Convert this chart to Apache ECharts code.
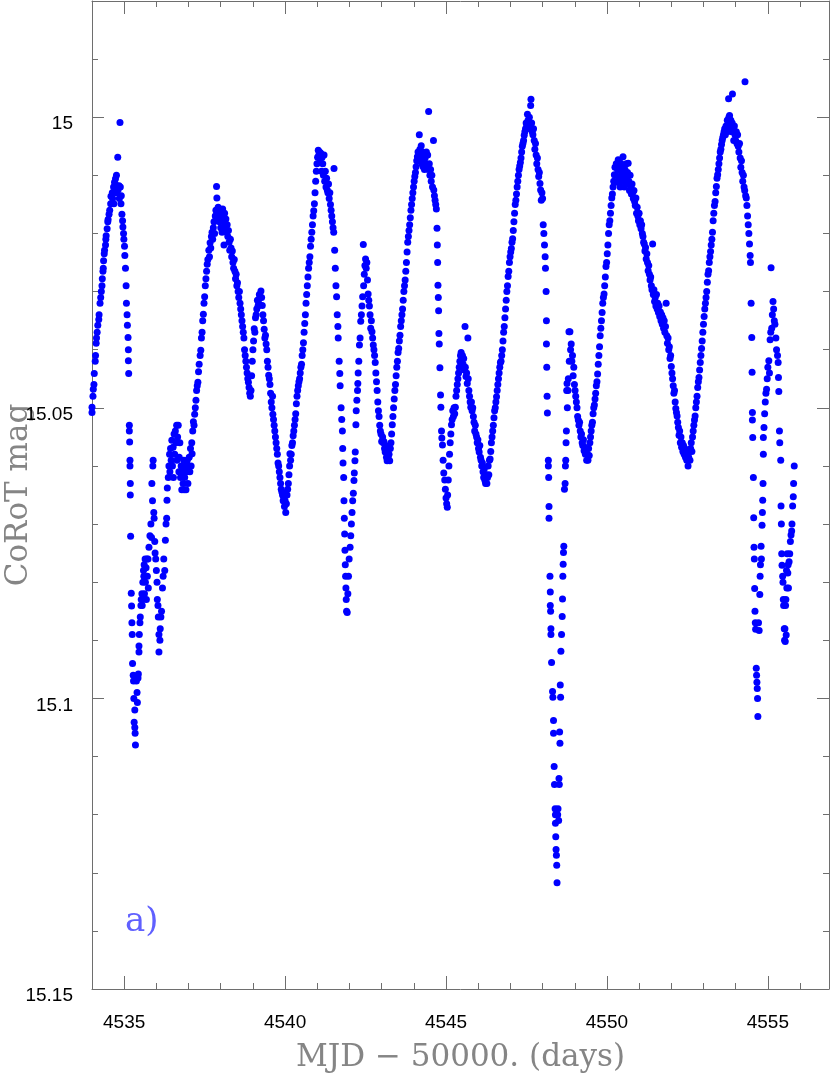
<!DOCTYPE html>
<html>
<head>
<meta charset="utf-8">
<title>CoRoT light curve</title>
<script src="https://cdn.jsdelivr.net/npm/echarts@6/dist/echarts.min.js"></script>
<style>
  html, body { margin: 0; padding: 0; background: #fff; }
  #chart { width: 831px; height: 1079px; }
</style>
</head>
<body>
<div id="chart"></div>
<script>
// [MJD - 50000, CoRoT mag], cycle by cycle
const seg1 = [
  [4534.00,15.0508],[4534.00,15.0499],[4534.03,15.0480],[4534.04,15.0468],[4534.06,15.0460],[4534.07,15.0441],[4534.10,15.0420],[4534.11,15.0410],
  [4534.13,15.0389],[4534.14,15.0380],[4534.16,15.0370],[4534.18,15.0358],[4534.21,15.0348],[4534.22,15.0340],[4534.25,15.0320],[4534.27,15.0310],
  [4534.29,15.0300],[4534.31,15.0290],[4534.32,15.0278],[4534.34,15.0265],[4534.35,15.0260],[4534.36,15.0247],[4534.38,15.0235],[4534.39,15.0229],
  [4534.42,15.0220],[4534.43,15.0210],[4534.44,15.0204],[4534.47,15.0192],[4534.49,15.0180],[4534.50,15.0176],[4534.53,15.0167],[4534.55,15.0160],
  [4534.58,15.0149],[4534.59,15.0136],[4534.63,15.0130],[4534.64,15.0140],[4534.67,15.0120],[4534.68,15.0149],[4534.70,15.0112],[4534.72,15.0118],
  [4534.73,15.0106],[4534.75,15.0130],[4534.76,15.0100],[4534.78,15.0118],[4534.80,15.0069],[4534.81,15.0125],[4534.84,15.0118],[4534.85,15.0140],
  [4534.87,15.0009],[4534.88,15.0120],[4534.90,15.0149],[4534.91,15.0135],[4534.93,15.0167],[4534.95,15.0178],[4534.96,15.0189],[4534.98,15.0200],
  [4534.99,15.0210],[4535.01,15.0222],[4535.02,15.0238],[4535.04,15.0260],[4535.06,15.0290],[4535.07,15.0320],[4535.09,15.0340],[4535.10,15.0358],
  [4535.12,15.0379],[4535.13,15.0400],[4535.13,15.0419],[4535.14,15.0441],[4535.16,15.0530],[4535.16,15.0540],[4535.17,15.0559],[4535.18,15.0590],
  [4535.18,15.0600],[4535.19,15.0630],[4535.19,15.0650],[4535.20,15.0721],[4535.22,15.0819],[4535.23,15.0841],[4535.24,15.0870],[4535.25,15.0890],
  [4535.26,15.0940],[4535.28,15.0960],[4535.29,15.0970],[4535.30,15.1000],[4535.31,15.1041],[4535.33,15.1020],[4535.33,15.1050],[4535.34,15.1060],
  [4535.35,15.1080]
];
const seg2 = [
  [4535.38,15.0970],[4535.40,15.0990],[4535.41,15.1007],[4535.43,15.0965],[4535.44,15.0958],[4535.46,15.0920],[4535.46,15.0910],[4535.47,15.0890],
  [4535.49,15.0870],[4535.50,15.0860],[4535.52,15.0840],[4535.53,15.0830],[4535.55,15.0820],[4535.56,15.0840],[4535.58,15.0800],[4535.59,15.0830],
  [4535.60,15.0780],[4535.61,15.0790],[4535.62,15.0770],[4535.63,15.0820],[4535.65,15.0760],[4535.66,15.0800],[4535.68,15.0775],[4535.69,15.0830],
  [4535.71,15.0760],[4535.72,15.0790],[4535.74,15.0760],[4535.75,15.0810],[4535.77,15.0740],[4535.80,15.0720],[4535.83,15.0700],[4535.85,15.0723],
  [4535.86,15.0630],[4535.88,15.0660],[4535.89,15.0600],[4535.90,15.0590],[4535.92,15.0680],[4535.93,15.0690],[4535.95,15.0730],[4535.96,15.0750],
  [4535.98,15.0760],[4536.00,15.0780],[4536.02,15.0800],[4536.03,15.0830],[4536.05,15.0840],[4536.06,15.0860],[4536.08,15.0920],[4536.08,15.0890],
  [4536.11,15.0900],[4536.12,15.0880],[4536.14,15.0860],[4536.16,15.0850],[4536.19,15.0810],[4536.21,15.0790],[4536.23,15.0760],[4536.26,15.0780],
  [4536.28,15.0728],[4536.30,15.0700],[4536.32,15.0690],[4536.33,15.0659],[4536.34,15.0638],[4536.37,15.0620],[4536.39,15.0600],[4536.41,15.0580],
  [4536.42,15.0610],[4536.44,15.0570],[4536.46,15.0590],[4536.48,15.0556],[4536.50,15.0600],[4536.52,15.0568],[4536.53,15.0620],[4536.55,15.0545],
  [4536.57,15.0580],[4536.59,15.0540],[4536.61,15.0560],[4536.63,15.0530],[4536.64,15.0590],[4536.66,15.0550],[4536.68,15.0530],[4536.70,15.0610],
  [4536.71,15.0585],[4536.73,15.0560],[4536.75,15.0620],[4536.77,15.0600],[4536.79,15.0641],[4536.81,15.0610],[4536.83,15.0630],[4536.85,15.0590],
  [4536.86,15.0641],[4536.88,15.0620],[4536.90,15.0600],[4536.92,15.0641],[4536.94,15.0610],[4536.96,15.0590],[4536.98,15.0630]
];
const seg3 = [
  [4537.00,15.0600],[4537.02,15.0585],[4537.04,15.0610],[4537.06,15.0570],[4537.08,15.0600],[4537.10,15.0560],[4537.11,15.0579],[4537.13,15.0540],
  [4537.15,15.0524],[4537.17,15.0530],[4537.19,15.0511],[4537.21,15.0500],[4537.23,15.0487],[4537.25,15.0470],[4537.27,15.0462],[4537.29,15.0456],
  [4537.31,15.0438],[4537.33,15.0425],[4537.36,15.0410],[4537.38,15.0401],[4537.40,15.0380],[4537.42,15.0370],[4537.44,15.0350],[4537.46,15.0339],
  [4537.48,15.0320],[4537.50,15.0309],[4537.52,15.0290],[4537.54,15.0278],[4537.56,15.0265],[4537.58,15.0253],[4537.60,15.0245],[4537.63,15.0229],
  [4537.65,15.0240],[4537.67,15.0216],[4537.69,15.0225],[4537.71,15.0205],[4537.73,15.0198],[4537.75,15.0210],[4537.77,15.0190],[4537.79,15.0180],
  [4537.81,15.0200],[4537.83,15.0170],[4537.85,15.0160],[4537.87,15.0119],[4537.88,15.0139],[4537.90,15.0175],[4537.92,15.0155],[4537.94,15.0165],
  [4537.96,15.0180],[4537.98,15.0160],[4538.00,15.0190],[4538.02,15.0170],[4538.04,15.0198],[4538.06,15.0158],[4538.08,15.0180],[4538.10,15.0220],
  [4538.12,15.0165],[4538.14,15.0190],[4538.16,15.0175],[4538.18,15.0198],[4538.20,15.0185],[4538.22,15.0205],[4538.24,15.0195],[4538.26,15.0215],
  [4538.28,15.0229],[4538.30,15.0210],[4538.32,15.0225],[4538.34,15.0240],[4538.36,15.0230],[4538.38,15.0250],[4538.40,15.0260],[4538.42,15.0245],
  [4538.44,15.0265],[4538.46,15.0278],[4538.48,15.0270],[4538.50,15.0290],[4538.52,15.0285],[4538.54,15.0300],[4538.56,15.0310],[4538.58,15.0300],
  [4538.60,15.0320],[4538.62,15.0330],[4538.64,15.0340],[4538.66,15.0350],[4538.68,15.0360],[4538.70,15.0370],[4538.72,15.0380],[4538.74,15.0400],
  [4538.76,15.0410],[4538.78,15.0420],[4538.80,15.0430],[4538.82,15.0440],[4538.84,15.0450],[4538.86,15.0456],[4538.88,15.0465],[4538.90,15.0475],
  [4538.92,15.0480],[4538.94,15.0470],[4538.96,15.0445],[4538.98,15.0420],[4539.00,15.0400],[4539.02,15.0385],[4539.04,15.0364],[4539.06,15.0370],
  [4539.08,15.0345],[4539.10,15.0340],[4539.12,15.0330],[4539.14,15.0315],[4539.16,15.0325],[4539.18,15.0320],[4539.20,15.0305],[4539.22,15.0310],
  [4539.25,15.0299],[4539.27,15.0310],[4539.29,15.0324],[4539.31,15.0340],[4539.33,15.0350],[4539.35,15.0365],[4539.37,15.0380],[4539.39,15.0375],
  [4539.41,15.0390],[4539.43,15.0400],[4539.45,15.0420],[4539.47,15.0430],[4539.49,15.0444],[4539.51,15.0450],[4539.53,15.0460],[4539.55,15.0475],
  [4539.57,15.0490],[4539.59,15.0500],[4539.61,15.0480],[4539.62,15.0511],[4539.64,15.0520],[4539.66,15.0530],[4539.68,15.0540],[4539.70,15.0550],
  [4539.72,15.0560],[4539.74,15.0570],[4539.76,15.0580],[4539.78,15.0595],[4539.80,15.0600],[4539.82,15.0610],[4539.84,15.0620],[4539.86,15.0630],
  [4539.88,15.0640],[4539.90,15.0645],[4539.92,15.0650],[4539.94,15.0660],[4539.96,15.0655],[4539.98,15.0670]
];
const seg4 = [
  [4540.00,15.0660],[4540.02,15.0680],[4540.04,15.0665],[4540.06,15.0650],[4540.08,15.0640],[4540.10,15.0630],[4540.12,15.0615],[4540.14,15.0600],
  [4540.15,15.0579],[4540.17,15.0590],[4540.19,15.0580],[4540.21,15.0565],[4540.23,15.0560],[4540.25,15.0548],[4540.27,15.0540],[4540.29,15.0530],
  [4540.31,15.0520],[4540.33,15.0510],[4540.35,15.0493],[4540.37,15.0480],[4540.39,15.0470],[4540.41,15.0462],[4540.43,15.0455],[4540.45,15.0450],
  [4540.47,15.0440],[4540.49,15.0430],[4540.51,15.0425],[4540.53,15.0410],[4540.55,15.0400],[4540.57,15.0388],[4540.59,15.0370],[4540.61,15.0355],
  [4540.63,15.0340],[4540.65,15.0320],[4540.67,15.0305],[4540.69,15.0290],[4540.71,15.0275],[4540.73,15.0260],[4540.75,15.0250],[4540.77,15.0240],
  [4540.79,15.0222],[4540.81,15.0210],[4540.83,15.0198],[4540.85,15.0185],[4540.87,15.0170],[4540.89,15.0161],[4540.91,15.0149],[4540.93,15.0130],
  [4540.95,15.0110],[4540.97,15.0093],[4540.99,15.0080],[4541.01,15.0069],[4541.03,15.0057],[4541.05,15.0065],[4541.07,15.0060],[4541.09,15.0075],
  [4541.11,15.0062],[4541.13,15.0093],[4541.15,15.0069],[4541.17,15.0080],[4541.19,15.0100],[4541.21,15.0065],[4541.23,15.0110],[4541.25,15.0093],
  [4541.27,15.0120],[4541.29,15.0105],[4541.31,15.0125],[4541.33,15.0130],[4541.35,15.0115],[4541.37,15.0140],[4541.39,15.0130],[4541.41,15.0150],
  [4541.43,15.0160],[4541.45,15.0170],[4541.47,15.0180],[4541.49,15.0190],[4541.51,15.0198],[4541.52,15.0088],[4541.54,15.0229],[4541.56,15.0260],
  [4541.58,15.0290],[4541.60,15.0309],[4541.62,15.0340],[4541.64,15.0360],[4541.65,15.0380],[4541.68,15.0420],[4541.70,15.0441],[4541.71,15.0462],
  [4541.74,15.0500],[4541.76,15.0520],[4541.78,15.0540],[4541.79,15.0570],[4541.80,15.0595],[4541.82,15.0620],[4541.83,15.0660],[4541.84,15.0690],
  [4541.85,15.0717],[4541.86,15.0745],[4541.87,15.0770],[4541.88,15.0790],[4541.89,15.0810],[4541.90,15.0830],[4541.91,15.0850],[4541.93,15.0852],
  [4541.95,15.0820],[4541.97,15.0790],[4541.99,15.0760],[4542.02,15.0740],[4542.04,15.0720],[4542.06,15.0700],[4542.08,15.0680],[4542.10,15.0660],
  [4542.12,15.0647],[4542.14,15.0625],[4542.15,15.0612],[4542.17,15.0591],[4542.18,15.0576],[4542.20,15.0529],[4542.21,15.0505],[4542.23,15.0487],
  [4542.25,15.0470],[4542.26,15.0458],[4542.27,15.0440],[4542.29,15.0420],[4542.31,15.0392],[4542.33,15.0380],[4542.35,15.0351],[4542.37,15.0340],
  [4542.39,15.0325],[4542.41,15.0309],[4542.43,15.0219],[4542.44,15.0290],[4542.46,15.0270],[4542.48,15.0255],[4542.50,15.0244],[4542.52,15.0260],
  [4542.54,15.0250],[4542.56,15.0280],[4542.58,15.0304],[4542.60,15.0315],[4542.62,15.0325],[4542.64,15.0340],[4542.66,15.0363],[4542.68,15.0350],
  [4542.70,15.0369],[4542.72,15.0380],[4542.74,15.0392],[4542.76,15.0400],[4542.78,15.0410],[4542.80,15.0422],[4542.82,15.0440],[4542.84,15.0455],
  [4542.86,15.0470],[4542.88,15.0490],[4542.90,15.0505],[4542.92,15.0515],[4542.94,15.0530],[4542.96,15.0540],[4542.98,15.0545]
];
const seg5 = [
  [4543.00,15.0558],[4543.03,15.0550],[4543.05,15.0560],[4543.07,15.0558],[4543.09,15.0570],[4543.11,15.0576],[4543.13,15.0565],[4543.15,15.0585],
  [4543.17,15.0591],[4543.19,15.0575],[4543.21,15.0588],[4543.23,15.0580],[4543.25,15.0591],[4543.27,15.0570],[4543.29,15.0560],[4543.31,15.0545],
  [4543.33,15.0529],[4543.35,15.0515],[4543.37,15.0500],[4543.39,15.0485],[4543.41,15.0470],[4543.43,15.0460],[4543.45,15.0445],[4543.47,15.0430],
  [4543.49,15.0420],[4543.51,15.0405],[4543.53,15.0398],[4543.55,15.0385],[4543.57,15.0375],[4543.59,15.0360],[4543.61,15.0350],[4543.63,15.0340],
  [4543.65,15.0330],[4543.67,15.0315],[4543.69,15.0300],[4543.71,15.0290],[4543.73,15.0280],[4543.75,15.0265],[4543.77,15.0250],[4543.79,15.0232],
  [4543.81,15.0215],[4543.83,15.0205],[4543.85,15.0195],[4543.87,15.0185],[4543.89,15.0173],[4543.91,15.0160],[4543.93,15.0150],[4543.95,15.0140],
  [4543.97,15.0130],[4543.99,15.0120],[4544.01,15.0110],[4544.03,15.0102],[4544.05,15.0095],[4544.07,15.0085],[4544.09,15.0075],[4544.11,15.0068],
  [4544.13,15.0060],[4544.15,15.0075],[4544.17,15.0030],[4544.19,15.0055],[4544.21,15.0070],[4544.23,15.0049],[4544.25,15.0080],[4544.27,15.0060],
  [4544.29,15.0085],[4544.31,15.0065],[4544.33,15.0090],[4544.35,15.0070],[4544.37,15.0080],[4544.39,15.0060],[4544.41,15.0085],[4544.43,15.0065],
  [4544.45,15.0090],[4544.46,14.9990],[4544.48,15.0080],[4544.50,15.0100],[4544.52,15.0090],[4544.54,15.0110],[4544.56,15.0100],[4544.58,15.0120],
  [4544.61,15.0040],[4544.62,15.0125],[4544.64,15.0135],[4544.66,15.0143],[4544.68,15.0150],[4544.70,15.0158],[4544.72,15.0191],[4544.73,15.0220],
  [4544.74,15.0250],[4544.75,15.0289],[4544.76,15.0310],[4544.77,15.0333],[4544.78,15.0372],[4544.79,15.0390],[4544.81,15.0431],[4544.83,15.0478],
  [4544.84,15.0499],[4544.86,15.0540],[4544.87,15.0552],[4544.89,15.0564],[4544.91,15.0590],[4544.93,15.0612],[4544.96,15.0624],[4544.98,15.0640],
  [4545.00,15.0655],[4545.02,15.0665],[4545.04,15.0671],[4545.05,15.0650],[4545.07,15.0624],[4545.09,15.0600],[4545.11,15.0580],[4545.13,15.0560],
  [4545.15,15.0545],[4545.17,15.0529],[4545.19,15.0520],[4545.21,15.0505],[4545.23,15.0515],[4545.25,15.0500],[4545.27,15.0510],[4545.29,15.0499],
  [4545.31,15.0480],[4545.33,15.0470],[4545.35,15.0460],[4545.37,15.0450],[4545.39,15.0440],[4545.41,15.0430],[4545.43,15.0420],[4545.45,15.0410],
  [4545.47,15.0405],[4545.49,15.0420],[4545.51,15.0410],[4545.53,15.0425],[4545.55,15.0415],[4545.57,15.0435],[4545.59,15.0360],[4545.60,15.0430],
  [4545.62,15.0446],[4545.64,15.0440],[4545.66,15.0458],[4545.68,15.0380],[4545.69,15.0450],[4545.71,15.0470],[4545.73,15.0480],[4545.75,15.0490],
  [4545.77,15.0499],[4545.79,15.0490],[4545.81,15.0505],[4545.83,15.0500],[4545.85,15.0515],[4545.87,15.0525],[4545.89,15.0540],[4545.91,15.0530],
  [4545.93,15.0545],[4545.95,15.0550],[4545.97,15.0560],[4545.99,15.0555],[4546.01,15.0570],[4546.03,15.0576],[4546.05,15.0565],[4546.07,15.0585],
  [4546.09,15.0590],[4546.11,15.0600],[4546.13,15.0595],[4546.15,15.0610],[4546.17,15.0620],[4546.19,15.0605],[4546.21,15.0625],[4546.23,15.0630],
  [4546.25,15.0615],[4546.27,15.0630],[4546.29,15.0620],[4546.31,15.0600],[4546.33,15.0615],[4546.35,15.0590],[4546.37,15.0588],[4546.39,15.0575],
  [4546.41,15.0560],[4546.43,15.0550],[4546.45,15.0540],[4546.47,15.0530]
];
const seg6 = [
  [4546.49,15.0517],[4546.51,15.0505],[4546.53,15.0500],[4546.55,15.0490],[4546.57,15.0481],[4546.59,15.0470],[4546.61,15.0460],[4546.63,15.0450],
  [4546.65,15.0440],[4546.67,15.0430],[4546.69,15.0422],[4546.71,15.0420],[4546.73,15.0410],[4546.75,15.0400],[4546.77,15.0385],[4546.79,15.0370],
  [4546.81,15.0360],[4546.83,15.0345],[4546.85,15.0330],[4546.87,15.0315],[4546.89,15.0300],[4546.91,15.0290],[4546.93,15.0274],[4546.95,15.0265],
  [4546.97,15.0250],[4546.99,15.0240],[4547.01,15.0232],[4547.03,15.0226],[4547.05,15.0215],[4547.07,15.0209],[4547.09,15.0195],[4547.11,15.0180],
  [4547.13,15.0165],[4547.15,15.0150],[4547.17,15.0143],[4547.19,15.0132],[4547.21,15.0120],[4547.23,15.0110],[4547.25,15.0100],[4547.27,15.0090],
  [4547.29,15.0084],[4547.31,15.0078],[4547.33,15.0070],[4547.35,15.0060],[4547.37,15.0050],[4547.39,15.0045],[4547.41,15.0040],[4547.43,15.0031],
  [4547.45,15.0025],[4547.47,15.0020],[4547.49,15.0010],[4547.51,15.0015],[4547.53,14.9995],[4547.55,15.0005],[4547.57,15.0010],[4547.59,15.0000],
  [4547.61,15.0020],[4547.63,14.9980],[4547.64,14.9969],[4547.66,15.0010],[4547.68,15.0025],[4547.70,15.0030],[4547.72,15.0020],[4547.74,15.0040],
  [4547.76,15.0055],[4547.78,15.0045],[4547.80,15.0065],[4547.82,15.0080],[4547.84,15.0070],[4547.86,15.0090],[4547.88,15.0102],[4547.90,15.0095],
  [4547.92,15.0114],[4547.94,15.0125],[4547.96,15.0143],[4547.98,15.0130],[4548.00,15.0140],[4548.02,15.0185],[4548.04,15.0200],[4548.06,15.0220],
  [4548.08,15.0240],[4548.09,15.0260],[4548.11,15.0300],[4548.12,15.0350],[4548.12,15.0390],[4548.13,15.0430],[4548.14,15.0480],[4548.15,15.0509],
  [4548.18,15.0590],[4548.18,15.0600],[4548.19,15.0620],[4548.20,15.0670],[4548.20,15.0690],[4548.23,15.0790],[4548.24,15.0817],[4548.24,15.0840],
  [4548.25,15.0850],[4548.26,15.0880],[4548.26,15.0890],[4548.28,15.0938],[4548.31,15.0988],[4548.32,15.0998],[4548.34,15.1038],[4548.34,15.1060],
  [4548.36,15.1117],[4548.37,15.1148],[4548.39,15.1190],[4548.40,15.1200],[4548.40,15.1215],[4548.41,15.1238],[4548.42,15.1260],[4548.43,15.1270],
  [4548.44,15.1287],[4548.45,15.1317],[4548.47,15.1200],[4548.48,15.1190],[4548.50,15.1210],[4548.51,15.1138],[4548.52,15.1148],[4548.53,15.1058],
  [4548.54,15.1077],[4548.55,15.0977],[4548.56,15.0998],[4548.57,15.0919],[4548.59,15.0890],[4548.61,15.0859],[4548.62,15.0829],[4548.63,15.0790],
  [4548.64,15.0769],[4548.65,15.0749],[4548.66,15.0738],[4548.68,15.0640],[4548.70,15.0630],[4548.71,15.0600],[4548.72,15.0590],[4548.73,15.0560],
  [4548.74,15.0540],[4548.75,15.0470],[4548.76,15.0458],[4548.77,15.0500],[4548.79,15.0470],[4548.80,15.0450],[4548.82,15.0369],[4548.83,15.0420],
  [4548.85,15.0369],[4548.87,15.0400],[4548.89,15.0390],[4548.91,15.0420],[4548.93,15.0410],[4548.95,15.0445],[4548.97,15.0430],[4548.99,15.0460],
  [4549.01,15.0470],[4549.03,15.0480],[4549.05,15.0490],[4549.07,15.0500],[4549.09,15.0515],[4549.11,15.0521],[4549.13,15.0530],[4549.15,15.0525],
  [4549.17,15.0540],[4549.19,15.0550],[4549.21,15.0545],[4549.23,15.0560],[4549.25,15.0565],[4549.27,15.0555],[4549.29,15.0574],[4549.31,15.0568],
  [4549.33,15.0580],[4549.35,15.0575],[4549.37,15.0590],[4549.39,15.0580],[4549.41,15.0590],[4549.43,15.0570],[4549.45,15.0582],[4549.47,15.0560]
];
const seg7 = [
  [4549.49,15.0550],[4549.51,15.0540],[4549.53,15.0530],[4549.55,15.0525],[4549.57,15.0510],[4549.59,15.0500],[4549.61,15.0495],[4549.63,15.0485],
  [4549.65,15.0475],[4549.67,15.0462],[4549.69,15.0455],[4549.71,15.0442],[4549.73,15.0425],[4549.75,15.0410],[4549.77,15.0395],[4549.79,15.0376],
  [4549.81,15.0363],[4549.83,15.0350],[4549.85,15.0336],[4549.87,15.0320],[4549.89,15.0310],[4549.91,15.0304],[4549.93,15.0290],[4549.95,15.0275],
  [4549.97,15.0257],[4549.99,15.0250],[4550.01,15.0235],[4550.03,15.0220],[4550.05,15.0200],[4550.07,15.0185],[4550.09,15.0178],[4550.11,15.0165],
  [4550.13,15.0152],[4550.15,15.0139],[4550.17,15.0132],[4550.19,15.0120],[4550.21,15.0110],[4550.23,15.0099],[4550.25,15.0086],[4550.27,15.0100],
  [4550.29,15.0080],[4550.31,15.0112],[4550.33,15.0090],[4550.35,15.0073],[4550.37,15.0105],[4550.39,15.0085],[4550.41,15.0120],[4550.43,15.0079],
  [4550.45,15.0095],[4550.47,15.0110],[4550.49,15.0085],[4550.50,15.0068],[4550.52,15.0100],[4550.54,15.0120],[4550.56,15.0090],[4550.58,15.0105],
  [4550.60,15.0080],[4550.62,15.0115],[4550.64,15.0095],[4550.66,15.0079],[4550.68,15.0110],[4550.70,15.0126],[4550.72,15.0100],[4550.74,15.0120],
  [4550.76,15.0132],[4550.78,15.0115],[4550.80,15.0130],[4550.82,15.0140],[4550.84,15.0126],[4550.86,15.0145],[4550.88,15.0152],[4550.90,15.0139],
  [4550.92,15.0165],[4550.94,15.0155],[4550.96,15.0170],[4550.98,15.0178],[4551.00,15.0165],[4551.02,15.0185],[4551.04,15.0178],[4551.06,15.0192],
  [4551.08,15.0185],[4551.10,15.0200],[4551.12,15.0205],[4551.14,15.0215],[4551.16,15.0218],[4551.18,15.0230],[4551.20,15.0224],[4551.22,15.0244],
  [4551.24,15.0235],[4551.26,15.0250],[4551.28,15.0264],[4551.30,15.0255],[4551.32,15.0270],[4551.34,15.0280],[4551.36,15.0275],[4551.38,15.0290],
  [4551.40,15.0297],[4551.42,15.0218],[4551.44,15.0305],[4551.46,15.0297],[4551.48,15.0317],[4551.50,15.0310],[4551.52,15.0325],[4551.54,15.0305],
  [4551.56,15.0330],[4551.58,15.0320],[4551.60,15.0336],[4551.62,15.0325],[4551.64,15.0343],[4551.66,15.0335],[4551.68,15.0350],[4551.70,15.0340],
  [4551.72,15.0356],[4551.74,15.0345],[4551.76,15.0363],[4551.78,15.0350],[4551.80,15.0370],[4551.82,15.0360],[4551.84,15.0320],[4551.86,15.0376],
  [4551.88,15.0389],[4551.90,15.0380],[4551.92,15.0400],[4551.94,15.0395],[4551.96,15.0415],[4551.98,15.0410],[4552.00,15.0429],[4552.02,15.0440],
  [4552.04,15.0450],[4552.06,15.0462],[4552.08,15.0475],[4552.10,15.0470],[4552.12,15.0490],[4552.14,15.0501],[4552.16,15.0508],[4552.18,15.0514],
  [4552.20,15.0525],[4552.22,15.0534],[4552.24,15.0547],[4552.26,15.0540],[4552.28,15.0560],[4552.30,15.0550],[4552.32,15.0568],[4552.34,15.0560],
  [4552.36,15.0575],[4552.38,15.0565],[4552.40,15.0580],[4552.42,15.0570],[4552.44,15.0585],[4552.46,15.0575]
];
const seg8 = [
  [4552.48,15.0590],[4552.50,15.0580],[4552.52,15.0600],[4552.54,15.0585],[4552.56,15.0575],[4552.58,15.0590],[4552.60,15.0570],[4552.62,15.0560],
  [4552.64,15.0575],[4552.66,15.0550],[4552.68,15.0540],[4552.70,15.0530],[4552.72,15.0521],[4552.74,15.0514],[4552.76,15.0500],[4552.78,15.0490],
  [4552.80,15.0480],[4552.82,15.0465],[4552.84,15.0455],[4552.86,15.0448],[4552.88,15.0435],[4552.90,15.0422],[4552.92,15.0410],[4552.94,15.0398],
  [4552.96,15.0385],[4552.98,15.0370],[4553.00,15.0356],[4553.02,15.0343],[4553.04,15.0330],[4553.06,15.0320],[4553.08,15.0310],[4553.10,15.0300],
  [4553.12,15.0284],[4553.14,15.0270],[4553.16,15.0264],[4553.18,15.0250],[4553.20,15.0240],[4553.22,15.0231],[4553.24,15.0220],[4553.26,15.0210],
  [4553.28,15.0198],[4553.30,15.0178],[4553.32,15.0165],[4553.34,15.0152],[4553.36,15.0145],[4553.38,15.0130],[4553.40,15.0119],[4553.42,15.0105],
  [4553.44,15.0099],[4553.46,15.0090],[4553.48,15.0080],[4553.50,15.0070],[4553.52,15.0060],[4553.54,15.0055],[4553.56,15.0047],[4553.58,15.0040],
  [4553.60,15.0035],[4553.62,15.0030],[4553.64,15.0025],[4553.66,15.0020],[4553.68,15.0030],[4553.70,15.0015],[4553.72,15.0025],[4553.74,15.0005],
  [4553.76,15.0020],[4553.78,14.9968],[4553.79,15.0000],[4553.81,14.9997],[4553.83,15.0015],[4553.85,15.0005],[4553.87,15.0025],[4553.89,15.0010],
  [4553.90,14.9960],[4553.92,15.0020],[4553.94,15.0040],[4553.96,15.0015],[4553.98,15.0030],[4554.00,15.0040],[4554.02,15.0025],[4554.04,15.0045],
  [4554.06,15.0030],[4554.08,15.0050],[4554.10,15.0060],[4554.12,15.0045],[4554.14,15.0070],[4554.16,15.0086],[4554.18,15.0075],[4554.20,15.0095],
  [4554.22,15.0110],[4554.24,15.0100],[4554.26,15.0120],[4554.28,15.0126],[4554.29,14.9939],[4554.31,15.0135],[4554.33,15.0139],[4554.35,15.0152],
  [4554.37,15.0170],[4554.39,15.0185],[4554.41,15.0200],[4554.43,15.0218],[4554.45,15.0238],[4554.46,15.0250],[4554.48,15.0320],[4554.50,15.0379],
  [4554.51,15.0439],[4554.52,15.0508],[4554.52,15.0521],[4554.53,15.0551],[4554.55,15.0620],[4554.56,15.0689],[4554.57,15.0740],[4554.58,15.0760],
  [4554.59,15.0811],[4554.60,15.0850],[4554.61,15.0870],[4554.62,15.0881],[4554.64,15.0948],[4554.65,15.0960],[4554.66,15.0972],[4554.67,15.0983],
  [4554.68,15.1000],[4554.69,15.1031],[4554.71,15.0870],[4554.73,15.0883],[4554.75,15.0821],[4554.76,15.0790],[4554.77,15.0770],[4554.79,15.0738],
  [4554.80,15.0760],[4554.82,15.0702],[4554.83,15.0680],[4554.84,15.0659],[4554.85,15.0630],[4554.86,15.0580],[4554.86,15.0551],[4554.88,15.0534],
  [4554.90,15.0510],[4554.92,15.0490],[4554.94,15.0475],[4554.96,15.0468],[4554.98,15.0450],[4555.00,15.0430],[4555.03,15.0419],[4555.05,15.0440],
  [4555.07,15.0383],[4555.09,15.0370],[4555.10,15.0259],[4555.12,15.0363],[4555.14,15.0340],[4555.16,15.0317],[4555.18,15.0330],[4555.20,15.0350],
  [4555.22,15.0356],[4555.25,15.0380],[4555.27,15.0400],[4555.30,15.0410],[4555.32,15.0422],[4555.33,15.0448],[4555.34,15.0472],[4555.36,15.0540],
  [4555.37,15.0560],[4555.40,15.0590],[4555.41,15.0669],[4555.42,15.0700],[4555.43,15.0751],[4555.44,15.0771],[4555.46,15.0790],[4555.47,15.0800],
  [4555.48,15.0830],[4555.49,15.0840],[4555.51,15.0880],[4555.52,15.0900],[4555.53,15.0880],[4555.54,15.0902],[4555.55,15.0840],[4555.56,15.0830],
  [4555.57,15.0891],[4555.58,15.0780],[4555.59,15.0810],[4555.60,15.0751],[4555.62,15.0784],[4555.63,15.0770],[4555.64,15.0810],[4555.66,15.0765],
  [4555.68,15.0751],[4555.70,15.0730],[4555.72,15.0719],[4555.74,15.0712],[4555.75,15.0700],[4555.77,15.0669],[4555.79,15.0653],[4555.80,15.0630],
  [4555.82,15.0600]
];
const points = [].concat(seg1, seg2, seg3, seg4, seg5, seg6, seg7, seg8);

const xMajorTicks = [4535, 4540, 4545, 4550, 4555];
const yMajorTicks = [15, 15.05, 15.1, 15.15];

const frameColor = '#6e6e6e';
const titleFont = 'DejaVu Serif';
const tickFont = 'Liberation Sans';

const chart = echarts.init(document.getElementById('chart'));

// one axis per side carries the 1-unit ticks and labels, a twin on top of it the long major ticks
function xAxisPair(pos) {
  const bottom = pos === 'bottom';
  return [
    {
      type: 'value', position: pos, min: 4534, max: 4556.9, interval: 1,
      axisLine: { show: true, lineStyle: { color: frameColor, width: 1 } },
      axisTick: { show: true, inside: true, length: 6, lineStyle: { color: frameColor } },
      axisLabel: {
        show: bottom, margin: 24, color: '#000', fontFamily: tickFont, fontSize: 19,
        formatter: v => (Math.round(v) % 5 === 0 && Math.abs(v - Math.round(v)) < 1e-6 ? String(Math.round(v)) : '')
      },
      splitLine: { show: false },
      name: bottom ? 'MJD \u2212 50000. (days)' : '',
      nameLocation: 'middle', nameGap: 53, nameMoveOverlap: false,
      nameTextStyle: { fontFamily: titleFont, fontSize: 31, color: '#858585' }
    },
    {
      type: 'value', position: pos, min: 4534, max: 4556.9,
      axisLine: { show: false },
      axisTick: { show: true, inside: true, length: 13, customValues: xMajorTicks, lineStyle: { color: frameColor } },
      axisLabel: { show: false },
      splitLine: { show: false }
    }
  ];
}

function yAxisPair(pos) {
  const left = pos === 'left';
  return [
    {
      type: 'value', position: pos, inverse: true, min: 14.98, max: 15.15, interval: 0.01,
      axisLine: { show: true, lineStyle: { color: frameColor, width: 1 } },
      axisTick: { show: true, inside: true, length: 6, lineStyle: { color: frameColor } },
      axisLabel: {
        show: left, margin: 19, color: '#000', fontFamily: tickFont, fontSize: 19,
        verticalAlign: 'top', lineHeight: 14,
        formatter: v => (Math.round(v * 100) % 5 === 0 ? String(+v.toFixed(2)) : '')
      },
      splitLine: { show: false },
      name: left ? 'CoRoT mag' : '',
      nameLocation: 'middle', nameGap: 58, nameMoveOverlap: false,
      nameTextStyle: { fontFamily: titleFont, fontSize: 31, color: '#858585' }
    },
    {
      type: 'value', position: pos, inverse: true, min: 14.98, max: 15.15,
      axisLine: { show: false },
      axisTick: { show: true, inside: true, length: 12, customValues: yMajorTicks, lineStyle: { color: frameColor } },
      axisLabel: { show: false },
      splitLine: { show: false }
    }
  ];
}

const option = {
  animation: false,
  backgroundColor: '#fff',
  grid: { left: 92, right: 2, top: 1, bottom: 90, containLabel: false, outerBoundsMode: 'none' },
  xAxis: [].concat(xAxisPair('bottom'), xAxisPair('top')),
  yAxis: [].concat(yAxisPair('left'), yAxisPair('right')),
  graphic: [
    {
      type: 'text', left: 125, top: 905,
      style: { text: 'a)', font: '34px "DejaVu Serif"', fill: '#6060ff' }
    }
  ],
  series: [
    {
      type: 'scatter',
      xAxisIndex: 0,
      yAxisIndex: 0,
      data: points,
      symbol: 'circle',
      symbolSize: 7,
      itemStyle: { color: '#0000ff', opacity: 1 },
      emphasis: { disabled: true }
    }
  ]
};

chart.setOption(option);

window.addEventListener('resize', () => {
  chart.resize();
});
</script>
</body>
</html>
